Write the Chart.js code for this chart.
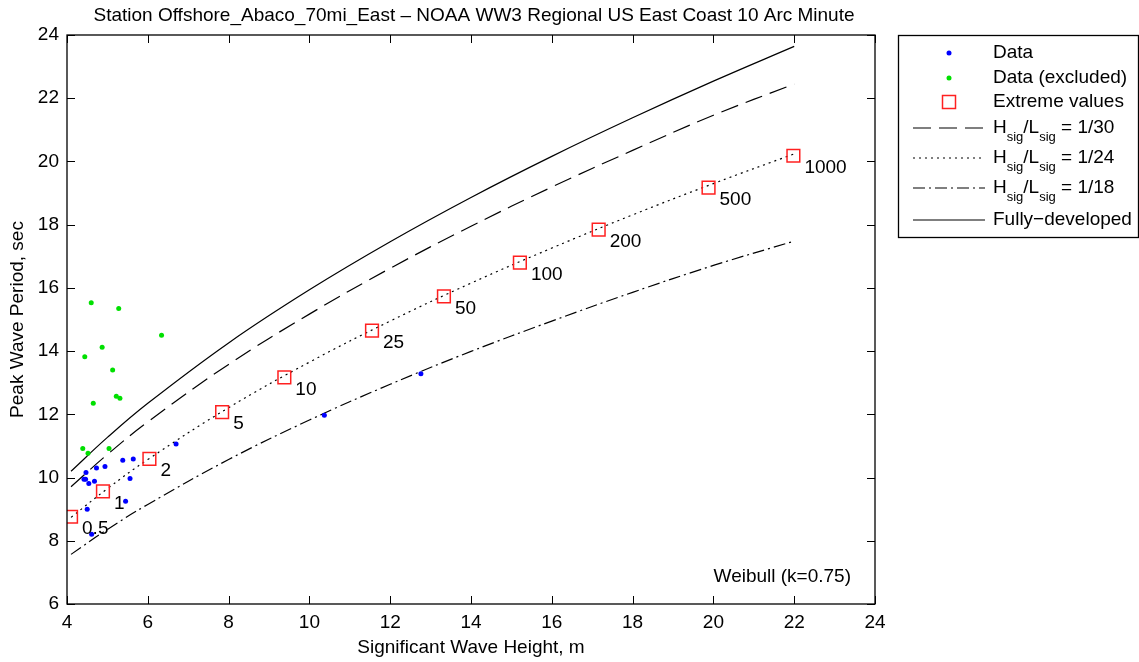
<!DOCTYPE html>
<html lang="en">
<head>
<meta charset="UTF-8">
<title>Offshore_Abaco_70mi_East | Peak period vs Hs</title>
<script src="https://cdn.jsdelivr.net/npm/chart.js"></script>
<style>
  body { margin: 0; background: #fff; }
  #box { width: 1139px; height: 662px; }
</style>
</head>
<body>
<div id="box"><canvas id="grafico" width="1139" height="662"></canvas></div>

<script>
// station data (Hs in m, Tp in s)
const dataHs = [4.61, 4.50, 5.45, 4.42, 4.46, 4.54, 4.68, 5.56, 4.47, 4.73, 4.94, 5.38, 5.64, 6.70, 10.37, 12.76];
const dataTp = [8.21, 9.00, 9.25, 9.95, 9.95, 9.81, 9.88, 9.97, 10.16, 10.30, 10.35, 10.55, 10.59, 11.06, 11.97, 13.28];

const excludedHs = [4.60, 5.28, 6.34, 4.87, 4.44, 5.13, 5.22, 5.31, 4.65, 4.39, 4.52, 5.04];
const excludedTp = [15.53, 15.35, 14.50, 14.12, 13.82, 13.40, 12.57, 12.51, 12.35, 10.92, 10.77, 10.92];

// extreme values by return period (years)
const returnPeriods = ['0.5', '1', '2', '5', '10', '25', '50', '100', '200', '500', '1000'];
const extremeHs = [4.10, 4.89, 6.04, 7.84, 9.38, 11.55, 13.33, 15.21, 17.16, 19.88, 21.98];
const extremeTp = [8.76, 9.56, 10.59, 12.07, 13.17, 14.65, 15.73, 16.80, 17.84, 19.17, 20.18];

// steepness / fully-developed curves
const curveHs = [4.1, 5, 6, 8, 10, 12, 14, 16, 18, 20, 22];
const fullyTp = [10.20, 11.27, 12.35, 14.26, 15.94, 17.46, 18.86, 20.16, 21.38, 22.54, 23.64];
const steep30Tp = [9.71, 10.73, 11.76, 13.58, 15.17, 16.62, 17.95, 19.19, 20.35, 21.46, 22.45];
const steep24Tp = [8.74, 9.65, 10.57, 12.21, 13.65, 14.95, 16.15, 17.26, 18.31, 19.30, 20.24];
const steep18Tp = [7.57, 8.36, 9.15, 10.57, 11.82, 12.95, 13.99, 14.95, 15.86, 16.71, 17.48];

const xTicks = [4, 6, 8, 10, 12, 14, 16, 18, 20, 22, 24];
const yTicks = [6, 8, 10, 12, 14, 16, 18, 20, 22, 24];

const FONT = '"Liberation Sans", Arial, Helvetica, sans-serif';
const TAM = 19;
const DASH30 = [18, 8];
const DASH24 = [2, 4];
const DASH18 = [12, 4, 2, 4];

function pares(xs, ys) {
    return xs.map(function (v, i) { return { x: v, y: ys[i] }; });
}

function curva(ys, dash, ordem) {
    return {
        type: 'line',
        data: pares(curveHs, ys),
        borderColor: '#000',
        borderWidth: 1.2,
        borderDash: dash,
        pointRadius: 0,
        tension: 0.4,
        fill: false,
        order: ordem
    };
}

// frame, inward ticks, titles, return-period labels and legend
const extras = {
    id: 'extras',
    afterDraw: function (chart) {
        const ctx = chart.ctx;
        const ca = chart.chartArea;
        const sx = chart.scales.x;
        const sy = chart.scales.y;

        ctx.save();
        ctx.strokeStyle = '#000';
        ctx.lineWidth = 1.3;
        ctx.setLineDash([]);
        ctx.strokeRect(ca.left, ca.top, ca.right - ca.left, ca.bottom - ca.top);

        ctx.lineWidth = 1;
        ctx.beginPath();
        xTicks.forEach(function (v) {
            const px = Math.round(sx.getPixelForValue(v)) + 0.5;
            ctx.moveTo(px, ca.bottom); ctx.lineTo(px, ca.bottom - 8);
            ctx.moveTo(px, ca.top); ctx.lineTo(px, ca.top + 8);
        });
        yTicks.forEach(function (v) {
            const py = Math.round(sy.getPixelForValue(v)) + 0.5;
            ctx.moveTo(ca.left, py); ctx.lineTo(ca.left + 8, py);
            ctx.moveTo(ca.right, py); ctx.lineTo(ca.right - 8, py);
        });
        ctx.stroke();

        const meio = (ca.left + ca.right) / 2;
        ctx.fillStyle = '#000';
        ctx.font = TAM + 'px ' + FONT;
        ctx.textAlign = 'center';
        ctx.textBaseline = 'middle';
        ctx.fillText('Station Offshore_Abaco_70mi_East \u2013 NOAA WW3 Regional US East Coast 10 Arc Minute', meio + 3, 16);
        ctx.fillText('Significant Wave Height, m', meio, 648);

        ctx.save();
        ctx.translate(18, (ca.top + ca.bottom) / 2);
        ctx.rotate(-Math.PI / 2);
        ctx.fillText('Peak Wave Period, sec', 0, 0);
        ctx.restore();

        ctx.textAlign = 'right';
        ctx.fillText('Weibull (k=0.75)', ca.right - 24, ca.bottom - 27);

        // return period labels next to the squares
        ctx.textAlign = 'left';
        returnPeriods.forEach(function (rp, i) {
            ctx.fillText(rp, sx.getPixelForValue(extremeHs[i]) + 11, sy.getPixelForValue(extremeTp[i]) + 12);
        });

        desenharLegenda(ctx);
        ctx.restore();
    }
};

function textoSub(ctx, x, y, partes) {
    partes.forEach(function (p) {
        if (p.sub) {
            ctx.font = '13px ' + FONT;
            ctx.fillText(p.t, x, y + 9);
        } else {
            ctx.font = TAM + 'px ' + FONT;
            ctx.fillText(p.t, x, y);
        }
        x += ctx.measureText(p.t).width;
    });
}

function desenharLegenda(ctx) {
    const lx = 898.5, ly = 35.5, lw = 240, lh = 202;
    ctx.strokeStyle = '#000';
    ctx.lineWidth = 1.3;
    ctx.setLineDash([]);
    ctx.strokeRect(lx, ly, lw, lh);

    const x1 = 913, x2 = 985, xm = 949, xt = 993;
    ctx.textAlign = 'left';
    ctx.textBaseline = 'middle';

    ctx.beginPath(); ctx.arc(xm, 53, 2.5, 0, 2 * Math.PI);
    ctx.fillStyle = '#0000ff'; ctx.fill();
    ctx.beginPath(); ctx.arc(xm, 78, 2.5, 0, 2 * Math.PI);
    ctx.fillStyle = '#00e000'; ctx.fill();
    ctx.strokeStyle = '#ff2020'; ctx.lineWidth = 1.5;
    ctx.strokeRect(xm - 6.5, 102 - 6.5, 13, 13);

    ctx.fillStyle = '#000';
    ctx.font = TAM + 'px ' + FONT;
    ctx.fillText('Data', xt, 53);
    ctx.fillText('Data (excluded)', xt, 78);
    ctx.fillText('Extreme values', xt, 102);

    const linhas = [
        { y: 128, dash: DASH30, r: ' = 1/30' },
        { y: 158, dash: DASH24, r: ' = 1/24' },
        { y: 188, dash: DASH18, r: ' = 1/18' }
    ];
    ctx.strokeStyle = '#000';
    ctx.lineWidth = 1.2;
    linhas.forEach(function (l) {
        ctx.setLineDash(l.dash);
        ctx.beginPath(); ctx.moveTo(x1, l.y); ctx.lineTo(x2, l.y); ctx.stroke();
        textoSub(ctx, xt, l.y, [{ t: 'H' }, { t: 'sig', sub: true }, { t: '/L' }, { t: 'sig', sub: true }, { t: l.r }]);
    });
    ctx.setLineDash([]);
    ctx.beginPath(); ctx.moveTo(x1, 220); ctx.lineTo(x2, 220); ctx.stroke();
    ctx.font = TAM + 'px ' + FONT;
    ctx.fillText('Fully\u2212developed', xt, 220);
}

Chart.defaults.color = '#000';
Chart.defaults.font.family = FONT;
Chart.defaults.font.size = TAM;

new Chart(document.getElementById('grafico'), {
    type: 'scatter',
    data: {
        datasets: [
            curva(fullyTp, [], 5),
            curva(steep30Tp, DASH30, 5),
            curva(steep24Tp, DASH24, 5),
            curva(steep18Tp, DASH18, 5),
            {
                label: 'Extreme values',
                data: pares(extremeHs, extremeTp),
                pointStyle: 'rect',
                pointRadius: 9,
                borderColor: '#ff2020',
                backgroundColor: 'rgba(0,0,0,0)',
                pointBorderWidth: 1.5,
                order: 3
            },
            {
                label: 'Data (excluded)',
                data: pares(excludedHs, excludedTp),
                pointRadius: 2.5,
                borderWidth: 0,
                backgroundColor: '#00e000',
                order: 2
            },
            {
                label: 'Data',
                data: pares(dataHs, dataTp),
                pointRadius: 2.5,
                borderWidth: 0,
                backgroundColor: '#0000ff',
                order: 1
            }
        ]
    },
    options: {
        responsive: false,
        animation: false,
        events: [],
        layout: { padding: { top: 35, right: 264, bottom: 0, left: 0 } },
        plugins: {
            legend: { display: false },
            tooltip: { enabled: false }
        },
        scales: {
            x: {
                type: 'linear',
                min: 4, max: 24,
                grid: { display: false, drawTicks: false },
                border: { display: false },
                ticks: { padding: 7, font: { size: TAM } },
                afterBuildTicks: function (s) { s.ticks = xTicks.map(function (v) { return { value: v }; }); },
                afterFit: function (s) { s.height = 58; }
            },
            y: {
                type: 'linear',
                min: 6, max: 24,
                grid: { display: false, drawTicks: false },
                border: { display: false },
                ticks: { padding: 8, font: { size: TAM } },
                afterBuildTicks: function (s) { s.ticks = yTicks.map(function (v) { return { value: v }; }); },
                afterFit: function (s) { s.width = 67; }
            }
        }
    },
    plugins: [extras]
});
</script>
</body>
</html>
